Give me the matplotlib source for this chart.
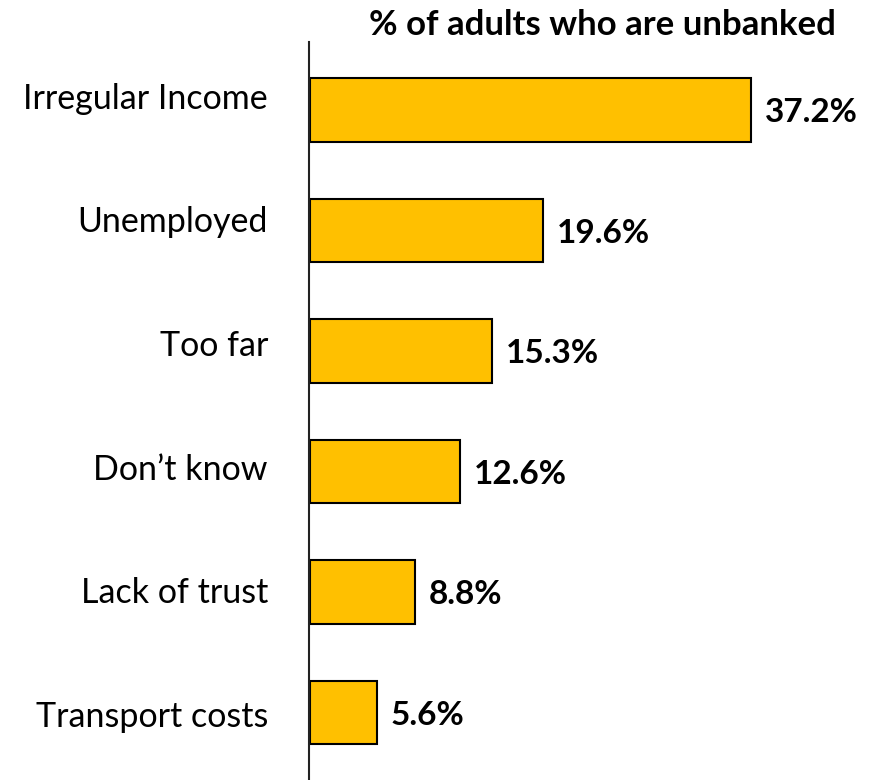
import matplotlib
matplotlib.use("Agg")
import matplotlib.pyplot as plt
from matplotlib.transforms import blended_transform_factory

categories = ["Irregular Income", "Unemployed", "Too far", "Don\u2019t know",
              "Lack of trust", "Transport costs"]
values = [37.2, 19.6, 15.3, 12.6, 8.8, 5.6]
value_labels = ["37.2%", "19.6%", "15.3%", "12.6%", "8.8%", "5.6%"]
title = "% of adults who are unbanked"

plt.rcParams["font.family"] = ["Lato", "DejaVu Sans"]

fig = plt.figure(figsize=(8.78, 7.8), dpi=100)
ax = fig.add_axes([309 / 878, 0.0, (878 - 309) / 878, (780 - 42) / 780])

y = list(range(len(categories)))
ax.barh(y, values, height=0.53, left=0.1, color="#FFC000",
        edgecolor="black", linewidth=1.5)

# value labels to the right of each bar
for yi, v, lab in zip(y, values, value_labels):
    ax.text(v + 1.3, yi + 0.1, lab, va="baseline", ha="left",
            fontsize=24, fontweight="bold", color="black")

# category labels to the left of the axis line; their row pitch is a
# little wider than the bars' pitch
trans = blended_transform_factory(ax.transAxes, ax.transData)
for yi, cat in zip(y, categories):
    ax.text(-41 / 569, yi * 1.0265 - 0.012, cat, transform=trans,
            va="baseline", ha="right", fontsize=24.5, color="black")

ax.set_xlim(0, 48)
ax.set_ylim(len(categories) - 0.44, -0.565)
ax.set_xticks([])
ax.set_yticks([])
for side in ["top", "right", "bottom"]:
    ax.spines[side].set_visible(False)
ax.spines["left"].set_linewidth(1.5)
ax.spines["left"].set_color("#222222")

fig.text(602 / 878, 1 - 35 / 780, title, ha="center", va="baseline",
         fontsize=25, fontweight="bold")

fig.savefig("out.png", dpi=100)
